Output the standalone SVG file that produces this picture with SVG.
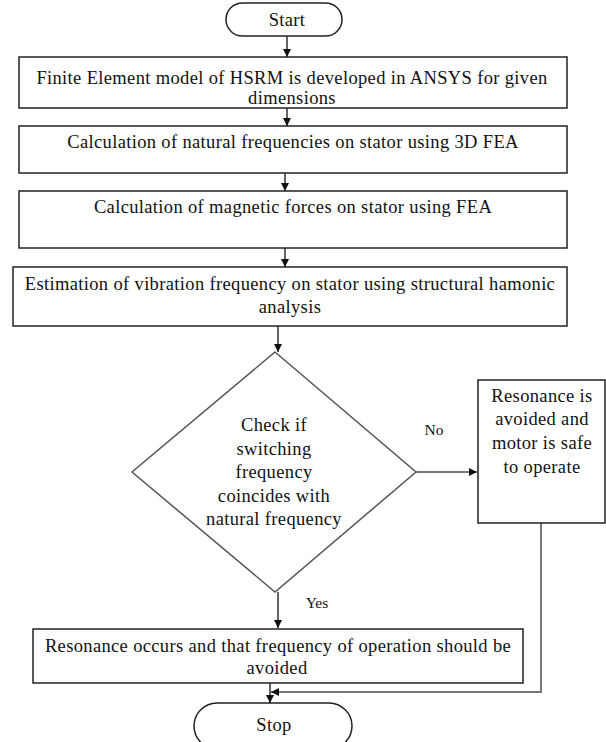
<svg xmlns="http://www.w3.org/2000/svg" width="606" height="742" viewBox="0 0 606 742">
<style>
.box{fill:#fff;stroke:#222;stroke-width:1.5}
.dia{fill:#fff;stroke:#555;stroke-width:1.5}
text{font-family:'Liberation Serif','DejaVu Serif',serif;fill:#111;text-anchor:middle}
.t{font-size:18.5px;letter-spacing:0.35px}
.lbl{font-size:15.5px}
.c{fill:none;stroke:#111;stroke-width:1.3}
.g{fill:none;stroke:#777;stroke-width:2}
</style>
<defs>
<marker id="ah" markerUnits="userSpaceOnUse" markerWidth="8" markerHeight="8" refX="8" refY="4" orient="auto">
<path d="M0,0 L8,4 L0,8 z" fill="#111"/>
</marker>
</defs>
<rect width="606" height="742" fill="#fff"/>
<g id="connectors">
<line class="c" x1="287" y1="36" x2="287" y2="57" marker-end="url(#ah)"/>
<line class="c" x1="287" y1="108" x2="287" y2="126" marker-end="url(#ah)"/>
<line class="c" x1="285" y1="173" x2="285" y2="191" marker-end="url(#ah)"/>
<line class="c" x1="285" y1="248" x2="285" y2="267" marker-end="url(#ah)"/>
<line class="c" x1="278" y1="326" x2="278" y2="352" marker-end="url(#ah)"/>
<line class="g" x1="416" y1="472" x2="477" y2="472" marker-end="url(#ah)"/>
<line class="c" x1="278" y1="592" x2="278" y2="628" marker-end="url(#ah)"/>
<line class="c" x1="270" y1="683" x2="270" y2="703" marker-end="url(#ah)"/>
<polyline class="g" points="541,523 541,692 271,692" marker-end="url(#ah)"/>
<text class="lbl" x="434" y="435">No</text>
<text class="lbl" x="317" y="608">Yes</text>
</g>
<g id="start">
<rect class="box" x="226" y="3" width="116" height="33" rx="16.5"/>
<text class="t" x="287" y="26">Start</text>
</g>
<g id="fe-model">
<rect class="box" x="19" y="57" width="548" height="51"/>
<text class="t" x="292" y="84">Finite Element model of HSRM is developed in ANSYS for given</text>
<text class="t" x="292" y="104">dimensions</text>
</g>
<g id="natural-freq">
<rect class="box" x="19" y="126" width="548" height="47"/>
<text class="t" x="293" y="148">Calculation of natural frequencies on stator using 3D FEA</text>
</g>
<g id="magnetic-forces">
<rect class="box" x="19" y="191" width="548" height="57"/>
<text class="t" x="293" y="213">Calculation of magnetic forces on stator using FEA</text>
</g>
<g id="vibration">
<rect class="box" x="13" y="267" width="554" height="59"/>
<text class="t" x="290" y="290">Estimation of vibration frequency on stator using structural hamonic</text>
<text class="t" x="290" y="313">analysis</text>
</g>
<g id="check">
<polygon class="dia" points="275,352 416,472 275,592 132,472"/>
<text class="t" x="274" y="431">Check if</text>
<text class="t" x="274" y="455">switching</text>
<text class="t" x="274" y="478">frequency</text>
<text class="t" x="274" y="502">coincides with</text>
<text class="t" x="274" y="525">natural frequency</text>
</g>
<g id="avoided">
<rect class="box" x="478" y="380" width="127" height="143"/>
<text class="t" x="542" y="402">Resonance is</text>
<text class="t" x="542" y="425">avoided and</text>
<text class="t" x="542" y="449">motor is safe</text>
<text class="t" x="542" y="473">to operate</text>
</g>
<g id="occurs">
<rect class="box" x="33" y="629" width="490" height="54"/>
<text class="t" x="278" y="652">Resonance occurs and that frequency of operation should be</text>
<text class="t" x="277" y="674">avoided</text>
</g>
<g id="stop">
<rect class="box" x="194" y="703" width="158" height="46" rx="23"/>
<text class="t" x="274" y="731">Stop</text>
</g>
</svg>
